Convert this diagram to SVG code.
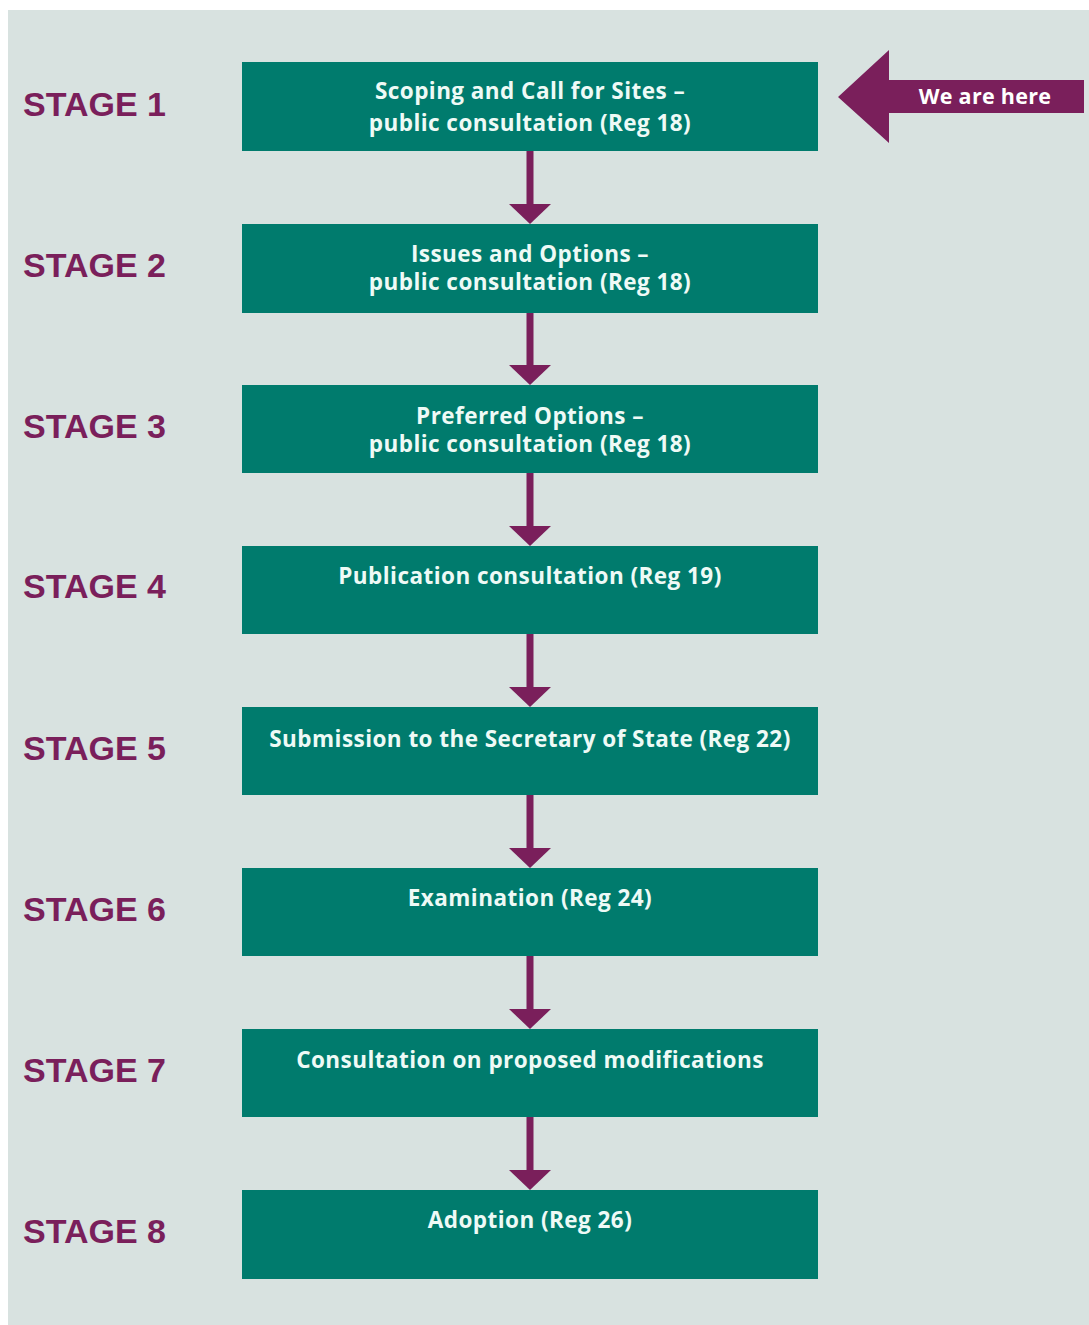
<svg xmlns="http://www.w3.org/2000/svg" width="1089" height="1325" viewBox="0 0 1089 1325">
<defs>
<style>
.bg{fill:#d8e2e0}
.box{fill:#007b6d}
.bt{font-family:"Open Sans",Lato,"Liberation Sans",sans-serif;font-weight:bold;font-size:22.5px;letter-spacing:0.45px;fill:#eefaf6;text-anchor:middle}
.st{font-family:"Liberation Sans",Arial,sans-serif;font-weight:bold;font-size:34px;fill:#7a1f5b}
.conn line{stroke:#7a1f5b;stroke-width:7}
.conn polygon{fill:#7a1f5b}
.here{fill:#7a1f5b}
.ht{font-family:"Open Sans",Lato,"Liberation Sans",sans-serif;font-weight:bold;font-size:21.5px;letter-spacing:0.3px;fill:#ffffff;text-anchor:middle}
</style>
</defs>
<rect x="0" y="0" width="1089" height="1325" fill="#ffffff"/>
<rect class="bg" x="8" y="10" width="1081" height="1315"/>

<g id="connectors" class="conn">
<line x1="530" y1="151" x2="530" y2="206"/><polygon points="509,204 551,204 530,224"/>
<line x1="530" y1="313" x2="530" y2="367"/><polygon points="509,365 551,365 530,385"/>
<line x1="530" y1="473" x2="530" y2="528"/><polygon points="509,526 551,526 530,546"/>
<line x1="530" y1="634" x2="530" y2="689"/><polygon points="509,687 551,687 530,707"/>
<line x1="530" y1="795" x2="530" y2="850"/><polygon points="509,848 551,848 530,868"/>
<line x1="530" y1="956" x2="530" y2="1011"/><polygon points="509,1009 551,1009 530,1029"/>
<line x1="530" y1="1117" x2="530" y2="1172"/><polygon points="509,1170 551,1170 530,1190"/>
</g>

<g id="stage1">
<text class="st" x="23" y="116">STAGE 1</text>
<rect class="box" x="242" y="62" width="576" height="89"/>
<text class="bt" x="530" y="99">Scoping and Call for Sites –</text>
<text class="bt" x="530" y="131">public consultation (Reg 18)</text>
</g>
<g id="stage2">
<text class="st" x="23" y="277">STAGE 2</text>
<rect class="box" x="242" y="224" width="576" height="89"/>
<text class="bt" x="530" y="262">Issues and Options –</text>
<text class="bt" x="530" y="290">public consultation (Reg 18)</text>
</g>
<g id="stage3">
<text class="st" x="23" y="438">STAGE 3</text>
<rect class="box" x="242" y="385" width="576" height="88"/>
<text class="bt" x="530" y="424">Preferred Options –</text>
<text class="bt" x="530" y="452">public consultation (Reg 18)</text>
</g>
<g id="stage4">
<text class="st" x="23" y="598">STAGE 4</text>
<rect class="box" x="242" y="546" width="576" height="88"/>
<text class="bt" x="530" y="584">Publication consultation (Reg 19)</text>
</g>
<g id="stage5">
<text class="st" x="23" y="760">STAGE 5</text>
<rect class="box" x="242" y="707" width="576" height="88"/>
<text class="bt" x="530" y="747">Submission to the Secretary of State (Reg 22)</text>
</g>
<g id="stage6">
<text class="st" x="23" y="921">STAGE 6</text>
<rect class="box" x="242" y="868" width="576" height="88"/>
<text class="bt" x="530" y="906">Examination (Reg 24)</text>
</g>
<g id="stage7">
<text class="st" x="23" y="1082">STAGE 7</text>
<rect class="box" x="242" y="1029" width="576" height="88"/>
<text class="bt" x="530" y="1068">Consultation on proposed modifications</text>
</g>
<g id="stage8">
<text class="st" x="23" y="1243">STAGE 8</text>
<rect class="box" x="242" y="1190" width="576" height="89"/>
<text class="bt" x="530" y="1228">Adoption (Reg 26)</text>
</g>

<g id="we-are-here">
<polygon class="here" points="838,97 889,50 889,80 1084,80 1084,113 889,113 889,143"/>
<text class="ht" x="985" y="104">We are here</text>
</g>
</svg>
